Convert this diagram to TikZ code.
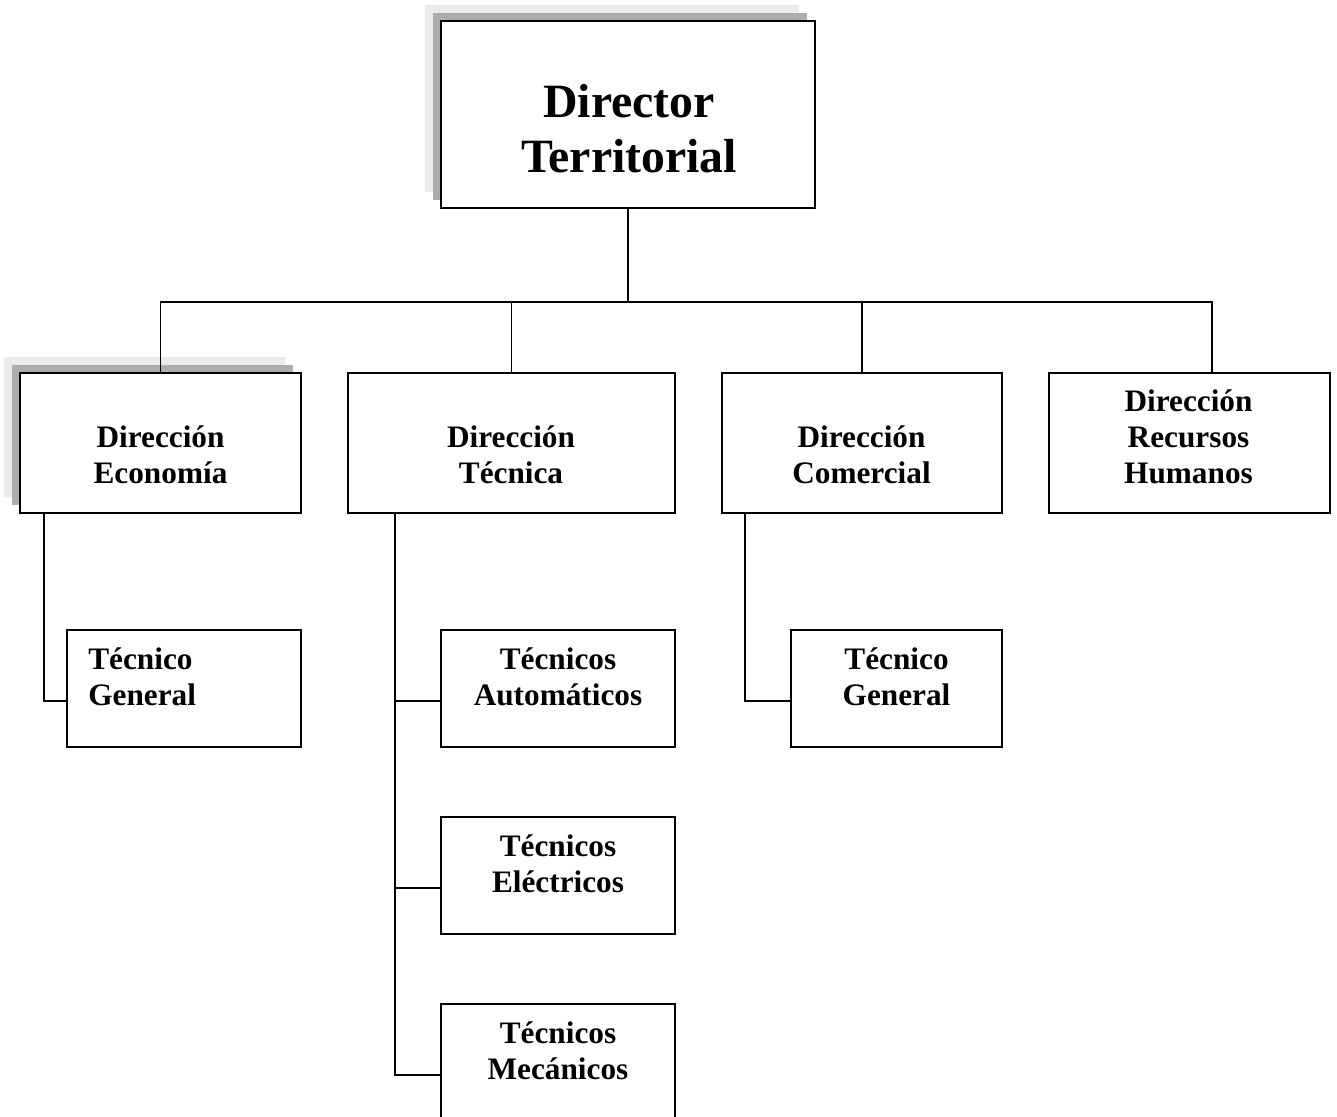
\documentclass[tikz,border=0pt]{standalone}
\usepackage{fontspec}
\setmainfont{Liberation Serif}
\usetikzlibrary{shadows}

\tikzset{
  caja/.style={draw, line width=1pt, fill=white, inner sep=0pt},
  sombra/.style={
    general shadow={fill=black!8, shadow xshift=-16*0.02cm, shadow yshift=16*0.02cm},
    general shadow={fill=black!32, shadow xshift=-8*0.02cm, shadow yshift=8*0.02cm}},
  txt/.style={font=\fontsize{17.8}{20.4}\selectfont\bfseries, align=center, inner sep=0pt},
  linea/.style={line width=1pt},
}

\begin{document}
\begin{tikzpicture}[x=0.02cm, y=-0.02cm]
    \useasboundingbox (0,0) rectangle (1337,1116);

    % director
    \node[caja, sombra, minimum width=374*0.02cm, minimum height=187*0.02cm] (dirTer) at (628,114.5) {};
    \node[txt, font=\fontsize{27.2}{31.2}\selectfont\bfseries] (dirTerT) at (629,129) {Director\\Territorial};

    % direcciones
    \node[caja, sombra, minimum width=281*0.02cm, minimum height=140*0.02cm] (dirEco) at (160.5,443) {};
    \node[caja, minimum width=327*0.02cm, minimum height=140*0.02cm] (dirTec) at (511.5,443) {};
    \node[caja, minimum width=280*0.02cm, minimum height=140*0.02cm] (dirCom) at (862,443) {};
    \node[caja, minimum width=281*0.02cm, minimum height=140*0.02cm] (dirRH) at (1189.5,443) {};
    \node[txt] (dirEcoT) at (160.5,455) {Dirección\\Economía};
    \node[txt] (dirTecT) at (511,455) {Dirección\\Técnica};
    \node[txt] (dirComT) at (861.5,455) {Dirección\\Comercial};
    \node[txt] (dirRHT) at (1188.5,437) {Dirección\\Recursos\\Humanos};

    % tecnicos
    \node[caja, minimum width=234*0.02cm, minimum height=117*0.02cm] (genEco) at (184,688.5) {};
    \node[caja, minimum width=234*0.02cm, minimum height=117*0.02cm] (tecAut) at (558,688.5) {};
    \node[caja, minimum width=234*0.02cm, minimum height=117*0.02cm] (tecEle) at (558,875.5) {};
    \node[caja, minimum width=234*0.02cm, minimum height=117*0.02cm] (tecMec) at (558,1062.5) {};
    \node[caja, minimum width=211*0.02cm, minimum height=117*0.02cm] (genCom) at (896.5,688.5) {};
    \node[txt, align=left, anchor=west] (genEcoT) at (88,677) {Técnico\\General};
    \node[txt] (tecAutT) at (558,677) {Técnicos\\Automáticos};
    \node[txt] (tecEleT) at (558,864) {Técnicos\\Eléctricos};
    \node[txt] (tecMecT) at (558,1051) {Técnicos\\Mecánicos};
    \node[txt] (genComT) at (896.5,677) {Técnico\\General};

    % lineas
    \coordinate (bus) at (628,302);
    \draw[linea] (dirTer.south) -- (bus);
    \draw[linea] (dirEco.north) |- (bus) -| ([xshift=22.5*0.02cm]dirRH.north);
    \draw[linea] (dirTec.north) -- (dirTec.north |- bus);
    \draw[linea] (dirCom.north) -- (dirCom.north |- bus);
    \draw[linea] ([xshift=-116.5*0.02cm]dirEco.south) |- ([yshift=-12.5*0.02cm]genEco.west);
    \draw[linea] ([xshift=-117*0.02cm]dirCom.south) |- ([yshift=-12.5*0.02cm]genCom.west);
    \draw[linea] ([xshift=-116.5*0.02cm]dirTec.south) |- ([yshift=-12.5*0.02cm]tecMec.west);
    \draw[linea] ([yshift=-12.5*0.02cm]tecAut.west) -- ++(-46,0);
    \draw[linea] ([yshift=-12.5*0.02cm]tecEle.west) -- ++(-46,0);
\end{tikzpicture}
\end{document}
